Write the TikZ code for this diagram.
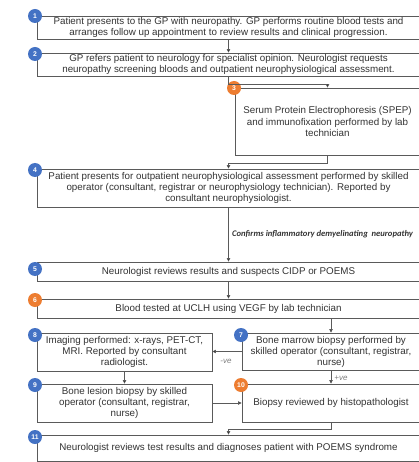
\documentclass[tikz,border=0pt]{standalone}
\usepackage{fontspec}
\setmainfont{Liberation Sans}
\newfontfamily\calfont{Carlito}
\usetikzlibrary{arrows.meta}
\definecolor{obl}{HTML}{4472C4}
\definecolor{oor}{HTML}{ED7D31}
\definecolor{txt}{HTML}{333333}
\definecolor{edge}{HTML}{5A5A5A}
\begin{document}
\begin{tikzpicture}[x=1pt,y=-1pt,
  box/.style={draw=edge,line width=0.9pt,rectangle,inner sep=0pt,align=center,
    text=txt,font=\fontsize{9.8}{11}\selectfont},
  num/.style={circle,fill=#1,text=white,inner sep=0pt,minimum size=14pt,
    font=\fontsize{6.8}{7}\selectfont\bfseries},
  arr/.style={draw=edge,line width=0.7pt,-{Triangle[length=3.5pt,width=3.5pt,fill=black]}},
  lab/.style={text=gray,font=\fontsize{8}{8}\selectfont\itshape,inner sep=0pt}]
\useasboundingbox (0,0) rectangle (418,462);
\fill[white] (0,0) rectangle (418,462);
% boxes
\node[box,minimum width=383pt,minimum height=23pt] (b1) at (228.5,27.5)
  {Patient presents to the GP with neuropathy. GP performs routine blood tests and\\arranges follow up appointment to review results and clinical progression.};
\node[box,minimum width=383pt,minimum height=23pt] (b2) at (228.5,64.5)
  {GP refers patient to neurology for specialist opinion. Neurologist requests\\neuropathy screening bloods and outpatient neurophysiological assessment.};
\node[box,minimum width=185pt,minimum height=67pt,font=\fontsize{9.8}{11.8}\selectfont] (b3) at (327.5,121.5)
  {Serum Protein Electrophoresis (SPEP)\\and immunofixation performed by lab\\technician};
\node[box,minimum width=383pt,minimum height=38pt] (b4) at (228.5,188)
  {Patient presents for outpatient neurophysiological assessment performed by skilled\\operator (consultant, registrar or neurophysiology technician). Reported by\\consultant neurophysiologist.};
\node[box,minimum width=383pt,minimum height=19pt] (b5) at (228.5,271.5)
  {Neurologist reviews results and suspects CIDP or POEMS};
\node[box,minimum width=383pt,minimum height=19pt] (b6) at (228.5,308.5)
  {Blood tested at UCLH using VEGF by lab technician};
\node[box,minimum width=178pt,minimum height=37pt] (b7) at (331,351.5)
  {Bone marrow biopsy performed by\\skilled operator (consultant, registrar,\\nurse)};
\node[box,minimum width=175pt,minimum height=38pt] (b8) at (124.5,352)
  {Imaging performed: x-rays, PET-CT,\\MRI.\ Reported by consultant\\radiologist.};
\node[box,minimum width=175pt,minimum height=38pt] (b9) at (124.5,403)
  {Bone lesion biopsy by skilled\\operator (consultant, registrar,\\nurse)};
\node[box,minimum width=178pt,minimum height=38pt] (b10) at (331,403)
  {Biopsy reviewed by histopathologist};
\node[box,minimum width=383pt,minimum height=26pt] (b11) at (228.5,448)
  {Neurologist reviews test results and diagnoses patient with POEMS syndrome};
% number badges
\node[num=obl] (n1) at (35,16) {1};
\node[num=obl] (n2) at (35,54) {2};
\node[num=oor] (n3) at (234,88) {3};
\node[num=obl] (n4) at (35,170) {4};
\node[num=obl] (n5) at (35,269) {5};
\node[num=oor] (n6) at (35,300) {6};
\node[num=obl] (n7) at (241,335) {7};
\node[num=obl] (n8) at (35,335) {8};
\node[num=obl] (n9) at (35,385) {9};
\node[num=oor] (n10) at (241,385) {10};
\node[num=obl] (n11) at (35,437) {11};
% connectors
\draw[arr] (b1.south) -- (b2.north);
\draw[arr] (b2.south) -- ++(0,8) -| (b3.north);
\draw[arr] (b3.south) -- ++(0,8) -| (b4.north);
\draw[arr] (b4.south) -- (b5.north);
\draw[arr] (b5.south) -- (b6.north);
\draw[arr] (b6.south -| b7.north) -- (b7.north);
\draw[arr] (b7.west) -- (b7.west -| b8.east);
\draw[arr] (b8.south) -- (b9.north);
\draw[arr] (b7.south) -- (b10.north);
\draw[arr] (b9.east) -- (b10.west);
\draw[arr] (b10.south) -- ++(0,7) -| (b11.north);
% labels
\node[anchor=west,inner sep=0pt,text=txt,font=\calfont\fontsize{8.6}{9}\selectfont\bfseries\itshape] (lc) at (232,234)
  {Confirms inflammatory demyelinating\ \ neuropathy};
\node[lab] (lneg) at (226,361) {-ve};
\node[lab] (lpos) at (341,378) {+ve};
\end{tikzpicture}
\end{document}
